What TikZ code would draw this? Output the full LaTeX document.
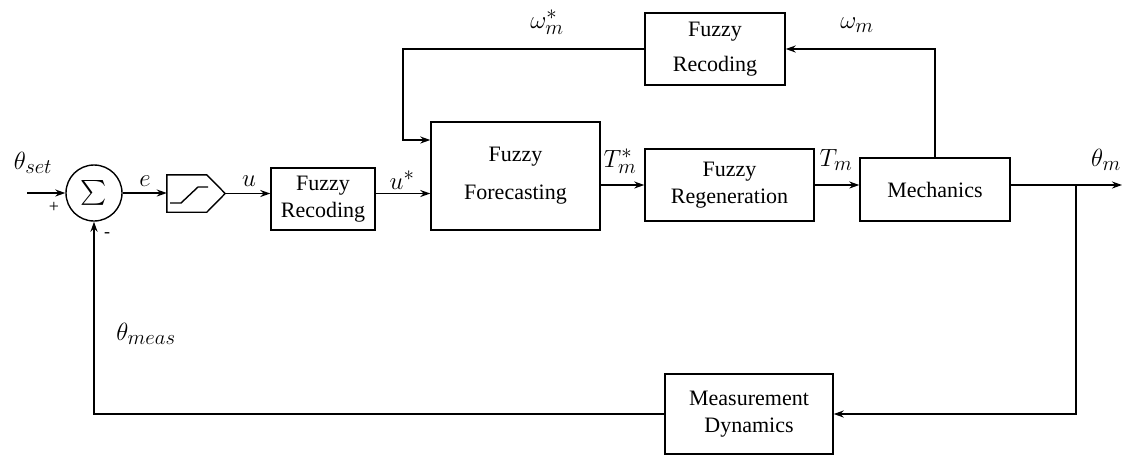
\documentclass[tikz,border=0pt]{standalone}
\usepackage{amsmath}
\usepackage{fontspec}
\setmainfont{Liberation Serif}
\usetikzlibrary{arrows.meta}
\begin{document}
\begin{tikzpicture}[x=1pt,y=-1pt,
  blk/.style={draw,line width=1.4pt,inner sep=0pt,font=\fontsize{22}{27}\selectfont,align=center},
  sig/.style={line width=1.4pt,-{Stealth[length=10pt,width=7pt]}},
  wire/.style={line width=1.4pt,line join=miter},
  lbl/.style={inner sep=0pt,font=\fontsize{28}{30}\selectfont},
  sgn/.style={inner sep=0pt,font=\fontsize{18}{20}\selectfont},
]
\useasboundingbox (0,0) rectangle (1123,459);

% blocks
\node[circle,draw,line width=1.4pt,minimum size=56pt,inner sep=0pt,font=\fontsize{28}{30}\selectfont] (sum) at (94,193) {$\textstyle\sum$};
\node[minimum width=58pt,minimum height=37pt,inner sep=0pt] (sat) at (196,193.5) {};
\node[blk,minimum width=104pt,minimum height=62pt] (fr1) at (323,199) {Fuzzy\\Recoding};
\node[blk,minimum width=169pt,minimum height=108pt,font=\fontsize{22}{38}\selectfont] (fc) at (515.5,176) {Fuzzy\\Forecasting};
\node[blk,minimum width=169pt,minimum height=72pt] (rg) at (729.5,185) {Fuzzy\\Regeneration};
\node[blk,minimum width=150pt,minimum height=63pt] (mech) at (935,189.5) {Mechanics};
\node[blk,minimum width=140pt,minimum height=72pt,font=\fontsize{22}{35}\selectfont] (fr2) at (715,49) {Fuzzy\\Recoding};
\node[blk,minimum width=168pt,minimum height=80pt] (meas) at (749,414) {Measurement\\Dynamics};

% saturation block shape
\draw[wire] (sat.east) -- ([xshift=40pt]sat.north west) -- (sat.north west) -- (sat.south west) -- ([xshift=40pt]sat.south west) -- cycle;
\draw[wire] (170,203) -- (181,203) -- (198,187) -- (208,187);

% connectors
\coordinate (in) at (27,193);
\coordinate (out) at (1122,185);
\coordinate (br) at (1076,185);
\coordinate (k) at (403,140);
\draw[sig] (in) -- (sum.west);
\draw[sig] (sum.east) -- (sum.east -| sat.west);
\draw[sig] (sat.east) -- (sat.east -| fr1.west);
\draw[sig] (fr1.east |- sat.east) -- (sat.east -| fc.west);
\draw[sig] (fc.east |- rg.west) -- (rg.west);
\draw[sig] (rg.east) -- (rg.east -| mech.west);
\draw[sig] (mech.east |- out) -- (out);
\draw[sig] (br) |- (meas.east);
\draw[sig] (meas.west) -| (sum.south);
\draw[sig] (mech.north) |- (fr2.east);
\draw[sig] (fr2.west) -| (k) -- (k -| fc.west);

% labels
\node[lbl] (lset) at (33,163) {$\theta_{set}$};
\node[sgn] (lplus) at (54,207) {+};
\node[sgn] (lminus) at (107,235) {-};
\node[lbl] (le) at (145,181) {$e$};
\node[lbl] (lu) at (249,181) {$u$};
\node[lbl] (lus) at (402,180) {$u^{*}$};
\node[lbl] (lts) at (620,161) {$T_m^{*}$};
\node[lbl] (ltm) at (836,160) {$T_m$};
\node[lbl] (lthm) at (1106,160) {$\theta_m$};
\node[lbl] (lws) at (547,22) {$\omega_m^{*}$};
\node[lbl] (lwm) at (857,25) {$\omega_m$};
\node[lbl] (lmeas) at (146,334) {$\theta_{meas}$};
\end{tikzpicture}
\end{document}
